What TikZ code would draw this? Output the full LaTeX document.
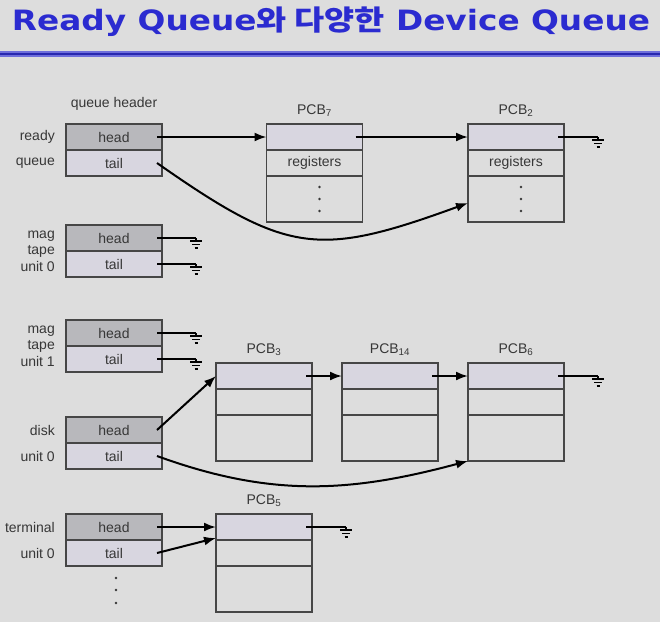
\documentclass[tikz,border=0pt]{standalone}
\usepackage{fontspec}
\usepackage{graphicx}
\setmainfont{Liberation Sans}
\newfontfamily\titlefont{DejaVu Sans}
\newfontfamily\hangul{Noto Sans CJK KR}
\usetikzlibrary{arrows.meta, positioning}

\definecolor{slidebg}{RGB}{221,221,221}
\definecolor{headfill}{RGB}{184,184,188}
\definecolor{tailfill}{RGB}{216,214,224}
\definecolor{cellline}{RGB}{70,70,70}
\definecolor{celltext}{RGB}{55,55,55}
\definecolor{titleblue}{RGB}{43,43,208}
\definecolor{rulelight}{RGB}{110,110,220}
\definecolor{ruledark}{RGB}{40,40,175}

\tikzset{
	cell/.style={draw=cellline, line width=1.3pt, minimum width=96pt, minimum height=26pt,
		inner sep=0pt, outer sep=0pt, text=celltext, font=\fontsize{14}{16}\selectfont},
	headcell/.style={cell, fill=headfill},
	tailcell/.style={cell, fill=tailfill},
	pcbtop/.style={cell, fill=tailfill},
	pcbrow/.style={cell, fill=slidebg},
	lbl/.style={text=celltext, font=\fontsize{14}{16.5}\selectfont, align=right, inner sep=0pt},
	ptr/.style={line width=2pt, -{Latex[length=12pt,width=9pt]}},
	nil/.style={line width=2pt},
	earth/.pic={
		\draw[line width=1.8pt] (0,0) -- (0,3);
		\draw[line width=1.8pt] (-6,3) -- (6,3);
		\draw[line width=1.8pt] (-4,6.5) -- (4,6.5);
		\draw[line width=1.8pt] (-1.5,10) -- (1.5,10);
	}
}

\begin{document}
\begin{tikzpicture}[x=1pt, y=-1pt]
	\def\hx{114};

	\fill[slidebg] (0,0) rectangle (660,622);
	\useasboundingbox (0,0) rectangle (660,622);

	\node[anchor=base, text=titleblue, inner sep=0pt] (title) at (331,30)
		{\scalebox{1.17}[1]{\titlefont\bfseries\fontsize{28}{30}\selectfont Ready Queue{\hangul\bfseries 와 다양한} Device Queue}};
	\draw[line width=5.5pt, rulelight] (0,54) -- (660,54);
	\draw[line width=2.5pt, ruledark] (0,54) -- (660,54);

	\foreach \q/\y in {rq/137, mt0/238, mt1/333, dk/430, tm/527}
	{
		\node[headcell] (\q h) at (\hx,\y) {head};
		\node[tailcell] (\q t) at (\hx,\y+26) {tail};
	}

	\node[lbl, above=13pt of rqh] (qhdr) {queue header};
	\node[lbl, left=11pt of rqh] (lready) {ready};
	\node[lbl, left=11pt of rqt] (lqueue) {queue};
	\node[lbl, anchor=east] (lmt0) at ([xshift=-11pt]mt0h.south west) {mag\\tape\\unit 0};
	\node[lbl, anchor=east] (lmt1) at ([xshift=-11pt]mt1h.south west) {mag\\tape\\unit 1};
	\node[lbl, left=11pt of dkh] (ldisk) {disk};
	\node[lbl, left=11pt of dkt] (ldunit) {unit 0};
	\node[lbl, left=11pt of tmh] (lterm) {terminal};
	\node[lbl, left=11pt of tmt] (ltunit) {unit 0};

	\foreach \p/\x/\y/\reg/\num in {p7/314.5/137/registers/7, p2/516/137/registers/2,
		p3/264/376//3, p14/390/376//14, p6/516/376//6, p5/264/527//5}
	{
		\node[pcbtop] (\p a) at (\x,\y) {};
		\node[pcbrow, below=0pt of \p a] (\p b) {\reg};
		\node[pcbrow, below=0pt of \p b, minimum height=46pt] (\p c) {};
		\node[lbl, above=7pt of \p a] (\p lbl) {PCB\textsubscript{\num}};
	}

	\foreach \p in {p7, p2}
		\foreach \d in {12, 0, -12}
			\fill[celltext] ([xshift=5pt, yshift=\d pt]\p c.center) circle (1.4);

	\foreach \d in {12, 24, 37}
		\fill[celltext] ([xshift=2pt, yshift=-\d pt]tmt.south) circle (1.4);

	\foreach \c/\s in {mt0h/5, mt0t/5, mt1h/5, mt1t/5, p2a/6, p6a/6, p5a/6}
	{
		\coordinate (\c g) at ([xshift=34pt]\c.east);
		\draw[nil] ([xshift=-\s pt]\c.east) -- (\c g);
		\pic at (\c g) {earth};
	}

	\draw[ptr] ([xshift=-5pt]rqh.east) -- (p7a.west);
	\draw[ptr] ([xshift=-7pt]p7a.east) -- (p2a.west);
	\draw[ptr] ([xshift=-5pt]rqt.east) to[out=-35, in=200, looseness=1.3] ([yshift=-4pt]p2c.west);

	\draw[ptr] ([xshift=-5pt]dkh.east) -- (p3a.west);
	\draw[ptr] ([xshift=-6pt]p3a.east) -- (p14a.west);
	\draw[ptr] ([xshift=-6pt]p14a.east) -- (p6a.west);
	\draw[ptr] ([xshift=-5pt]dkt.east) to[out=-20, in=195] (p6c.south west);

	\draw[ptr] ([xshift=-5pt]tmh.east) -- (p5a.west);
	\draw[ptr] ([xshift=-5pt]tmt.east) -- ([yshift=2pt]p5a.south west);
\end{tikzpicture}
\end{document}
